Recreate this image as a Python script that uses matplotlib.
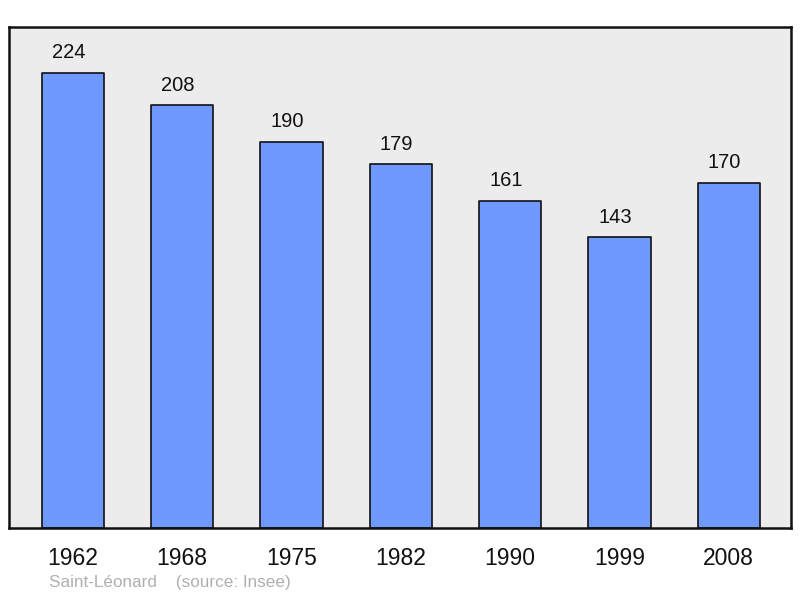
import matplotlib.pyplot as plt

plt.rcParams['font.family'] = ['Liberation Sans', 'DejaVu Sans']

years = ['1962', '1968', '1975', '1982', '1990', '1999', '2008']
population = [224, 208, 190, 179, 161, 143, 170]

fig = plt.figure(figsize=(8, 5.98), dpi=100)
ax = fig.add_axes([9 / 800, 70 / 598, 782 / 800, 501 / 598])
ax.set_facecolor('#ececec')

x = range(len(years))
bars = ax.bar(x, population, width=0.57, color='#7099ff', edgecolor='#111111',
              linewidth=1.2, joinstyle='round', zorder=2)

for xi, val in zip(x, population):
    ax.annotate(str(val), (xi, val), xytext=(-3, 14.5), textcoords='offset points',
                ha='center', va='center', fontsize=14.5, color='#111111')

ax.set_xlim(-0.585, 6.57)
ax.set_ylim(0, 246.6)
ax.set_yticks([])
ax.set_xticks(list(x))
ax.set_xticklabels(years, fontsize=16.5, color='#111111')
ax.tick_params(axis='x', length=0, pad=14)

for s in ax.spines.values():
    s.set_linewidth(1.8)
    s.set_color('#111111')
    s.set_joinstyle('round')

fig.text(49 / 800, 1 - 583 / 598, 'Saint-Léonard    (source: Insee)',
         fontsize=12.3, color='#b0b0b0', va='center', ha='left')

fig.savefig('out.png', dpi=100)
